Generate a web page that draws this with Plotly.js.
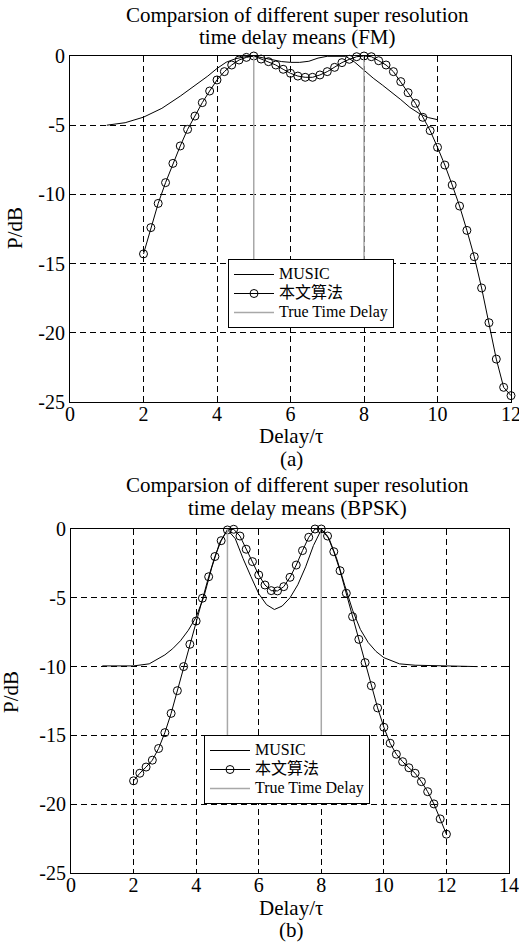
<!DOCTYPE html>
<html>
<head>
<meta charset="utf-8">
<script src="https://cdn.plot.ly/plotly-3.0.1.min.js"></script>
<style>html,body{margin:0;padding:0;background:#fff;}#chart{width:519px;height:943px;}</style>
</head>
<body>
<div id="chart"></div>
<script>
// ---------- (a) FM ----------
const fmMusicX = [1.0, 1.5, 2.0, 2.5, 3.0, 3.5, 3.75, 4.0, 4.25, 4.5, 4.75, 5.0, 5.25, 5.5, 5.75, 6.0, 6.25, 6.5, 6.75, 7.0, 7.25, 7.5, 7.75, 8.0, 8.25, 8.5, 8.75, 9.0, 9.25, 9.5, 9.75, 10.0];
const fmMusicY = [-5.0, -4.82, -4.42, -3.78, -2.9, -1.95, -1.45, -0.9, -0.45, -0.2, -0.06, 0, -0.12, -0.28, -0.4, -0.46, -0.46, -0.38, -0.15, -0.02, 0, -0.02, -0.45, -1.05, -1.6, -2.1, -2.6, -3.15, -3.72, -4.15, -4.45, -4.6];
const fmOursX = [2.0, 2.2, 2.4, 2.6, 2.8, 3.0, 3.2, 3.4, 3.6, 3.8, 4.0, 4.2, 4.4, 4.6, 4.8, 5.0, 5.2, 5.4, 5.6, 5.8, 6.0, 6.2, 6.4, 6.6, 6.8, 7.0, 7.2, 7.4, 7.6, 7.8, 8.0, 8.2, 8.4, 8.6, 8.8, 9.0, 9.2, 9.4, 9.6, 9.8, 10.0, 10.2, 10.4, 10.6, 10.8, 11.0, 11.2, 11.4, 11.6, 11.8, 12.0];
const fmOursY = [-14.3, -12.4, -10.65, -9.15, -7.76, -6.5, -5.3, -4.34, -3.37, -2.53, -1.73, -1.13, -0.65, -0.29, -0.1, 0, -0.22, -0.41, -0.65, -0.96, -1.25, -1.45, -1.54, -1.54, -1.37, -1.13, -0.82, -0.48, -0.24, -0.05, 0, -0.05, -0.34, -0.65, -1.13, -1.85, -2.65, -3.42, -4.43, -5.39, -6.6, -7.88, -9.32, -10.84, -12.6, -14.5, -16.76, -19.27, -21.9, -23.94, -24.54];

// ---------- (b) BPSK ----------
const bpskMusicX = [1.0, 1.5, 2.0, 2.5, 2.75, 3.0, 3.25, 3.5, 3.75, 4.0, 4.25, 4.5, 4.75, 5.0, 5.25, 5.5, 5.75, 6.0, 6.25, 6.5, 6.75, 7.0, 7.25, 7.5, 7.75, 8.0, 8.25, 8.5, 8.75, 9.0, 9.25, 9.5, 9.75, 10.0, 10.5, 11.0, 12.0, 13.0];
const bpskMusicY = [-9.95, -9.95, -9.95, -9.8, -9.5, -9.15, -8.7, -8.12, -7.36, -6.4, -4.9, -2.8, -1.0, -0.05, -0.7, -2.15, -3.45, -4.7, -5.5, -5.85, -5.6, -5.0, -4.05, -2.75, -1.2, -0.05, -0.7, -2.2, -4.1, -5.9, -7.3, -8.25, -8.9, -9.35, -9.8, -9.9, -9.95, -10.0];
const bpskOursX = [2.0, 2.2, 2.4, 2.6, 2.8, 3.0, 3.2, 3.4, 3.6, 3.8, 4.0, 4.2, 4.4, 4.6, 4.8, 5.0, 5.2, 5.4, 5.6, 5.8, 6.0, 6.2, 6.4, 6.6, 6.8, 7.0, 7.2, 7.4, 7.6, 7.8, 8.0, 8.2, 8.4, 8.6, 8.8, 9.0, 9.2, 9.4, 9.6, 9.8, 10.0, 10.2, 10.4, 10.6, 10.8, 11.0, 11.2, 11.4, 11.6, 11.8, 12.0];
const bpskOursY = [-18.3, -17.75, -17.3, -16.8, -15.95, -14.8, -13.4, -11.75, -10.0, -8.38, -6.69, -5.03, -3.47, -2.0, -0.85, -0.07, -0.02, -0.51, -1.47, -2.37, -3.34, -4.07, -4.48, -4.5, -4.19, -3.51, -2.62, -1.57, -0.6, 0, 0, -0.51, -1.65, -3.03, -4.67, -6.37, -8.02, -9.71, -11.39, -13.0, -14.41, -15.57, -16.37, -16.91, -17.35, -17.75, -18.36, -19.09, -19.98, -21.07, -22.18];

// True time delays (vertical lines from 0 dB down to -15 dB)
const trueDelayX = [5, 5, null, 8, 8];
const trueDelayY = [0, -15, null, 0, -15];

// Tick labels
const yTickVals = [-25, -20, -15, -10, -5, 0];
const yTickText = ['-25', '-20', '-15', '-10', '-5', '0'];
const xTickValsA = [0, 2, 4, 6, 8, 10, 12];
const xTickTextA = ['0', '2', '4', '6', '8', '10', '12'];
const xTickValsB = [0, 2, 4, 6, 8, 10, 12, 14];
const xTickTextB = ['0', '2', '4', '6', '8', '10', '12', '14'];

const seriesNames = ['MUSIC', '本文算法', 'True Time Delay'];
const titleA = ['Comparsion of different super resolution', 'time delay means (FM)'];
const titleB = ['Comparsion of different super resolution', 'time delay means (BPSK)'];

const FONT = 'Liberation Serif, Times New Roman, Noto Sans CJK SC, serif';
const W = 519, H = 943;
const px = v => v / W;
const py = v => 1 - v / H;
const legText = s => '<span style="font-size:16px">' + s + '</span>';

function traces(xa, ya, leg, mx, my, ox, oy) {
  return [
    {x: mx, y: my, xaxis: xa, yaxis: ya, legend: leg, name: legText(seriesNames[0]), type: 'scatter', mode: 'lines',
     line: {color: '#000', width: 1}},
    {x: ox, y: oy, xaxis: xa, yaxis: ya, legend: leg, name: legText(seriesNames[1]), type: 'scatter', mode: 'lines+markers',
     line: {color: '#000', width: 1}, marker: {symbol: 'circle-open', size: 8, color: '#000', line: {width: 1, color: '#000'}},
     cliponaxis: false},
    {x: trueDelayX, y: trueDelayY, xaxis: xa, yaxis: ya, legend: leg, name: legText(seriesNames[2]), type: 'scatter', mode: 'lines',
     line: {color: '#a8a8a8', width: 1.5}, connectgaps: false}
  ];
}

const data = [
  ...traces('x', 'y', 'legend', fmMusicX, fmMusicY, fmOursX, fmOursY),
  ...traces('x2', 'y2', 'legend2', bpskMusicX, bpskMusicY, bpskOursX, bpskOursY)
];

const common = {
  tickmode: 'array', showline: true, linecolor: '#000', linewidth: 1, mirror: 'ticks', ticks: 'inside', ticklen: 4,
  tickcolor: '#000', showgrid: true, gridcolor: '#000', gridwidth: 1, griddash: '6px,4px', zeroline: false,
  tickfont: {family: FONT, size: 20, color: '#000'}, fixedrange: true, ticklabeloverflow: 'allow'
};
function xAxis(dom, range, vals, text, anchor) {
  return Object.assign({}, common, {domain: dom, range: range, anchor: anchor, tickvals: vals, ticktext: text, ticklabelstandoff: -6});
}
function yAxis(dom, anchor) {
  return Object.assign({}, common, {domain: dom, range: [-25, 0], anchor: anchor, tickvals: yTickVals, ticktext: yTickText});
}

function ann(text, x, y, size, angle) {
  return {text: text, x: px(x), y: py(y), xref: 'paper', yref: 'paper', xanchor: 'center', yanchor: 'middle',
    showarrow: false, textangle: angle || 0, font: {family: FONT, size: size, color: '#000'}};
}

const legendBase = {bgcolor: '#fff', bordercolor: '#000', borderwidth: 1, xanchor: 'left', yanchor: 'top',
  font: {family: FONT, size: 12, color: '#000'}, itemwidth: 40, tracegroupgap: 0};

const layout = {
  width: W, height: H, margin: {l: 0, r: 0, t: 0, b: 0},
  paper_bgcolor: '#fff', plot_bgcolor: '#fff',
  font: {family: FONT, color: '#000'},
  showlegend: true,
  xaxis: xAxis([px(70), px(511)], [0, 12], xTickValsA, xTickTextA, 'y'),
  yaxis: yAxis([py(402), py(56)], 'x'),
  xaxis2: xAxis([px(71), px(509)], [0, 14], xTickValsB, xTickTextB, 'y2'),
  yaxis2: yAxis([py(873), py(529)], 'x2'),
  legend: Object.assign({}, legendBase, {x: px(228), y: py(259)}),
  legend2: Object.assign({}, legendBase, {x: px(204), y: py(735)}),
  annotations: [
    ann(titleA[0], 297, 15, 21), ann(titleA[1], 297, 37, 21),
    ann('Delay/τ', 291, 436, 21), ann('(a)', 291, 459, 21),
    ann('P/dB', 15, 228, 21, -90),
    ann(titleB[0], 297, 485, 21), ann(titleB[1], 297, 508, 21),
    ann('Delay/τ', 291, 908, 21), ann('(b)', 291, 930, 21),
    ann('P/dB', 11, 692, 21, -90)
  ]
};

Plotly.newPlot('chart', data, layout, {staticPlot: true, displayModeBar: false});
</script>
</body>
</html>
